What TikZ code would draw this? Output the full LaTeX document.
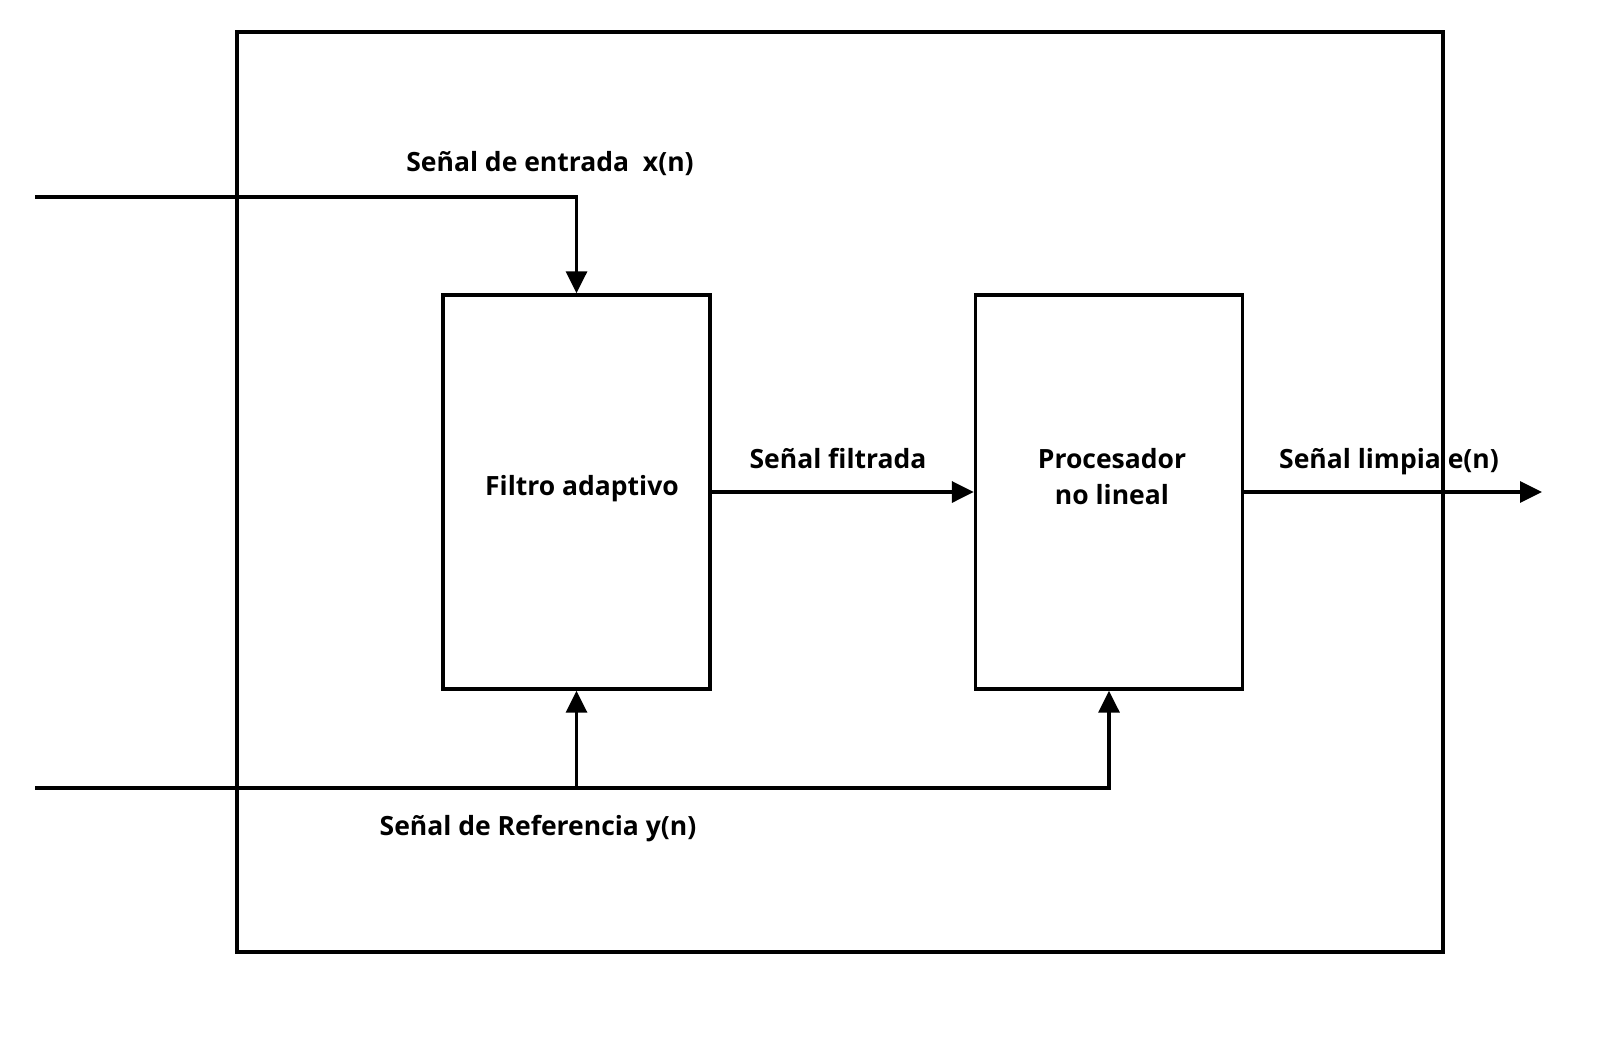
\documentclass[tikz,border=0pt]{standalone}
\usepackage{fontspec}
\setmainfont{Open Sans}
\usetikzlibrary{arrows.meta}
\begin{document}
\begin{tikzpicture}[x=1pt,y=-1pt,line width=3.4pt,
  blk/.style={draw,inner sep=0pt,align=center,minimum width=267pt,minimum height=394pt},
  lbl/.style={inner sep=0pt,font=\fontsize{26.5}{36}\selectfont\bfseries,align=center},
  arr/.style={-{Triangle[length=22pt,width=21pt]}}]
\useasboundingbox (0,0) rectangle (1615,1052);
\node[draw,inner sep=0pt,minimum width=1206pt,minimum height=920pt] (outer) at (840,492) {};
\node[blk] (filtro) at (576.5,492) {};
\node[lbl] (tfiltro) at (582,489) {Filtro adaptivo};
\node[blk] (proc) at (1109,492) {};
\node[lbl] (tproc) at (1112,477) {Procesador\\no lineal};
\coordinate (xin) at (35,197);
\coordinate (yin) at (35,788);
\coordinate (eout) at (1542,492);
\draw[arr] (xin) -| (filtro.north);
\draw[arr] (yin) -| (proc.south);
\draw[arr] (filtro.south |- yin) -- (filtro.south);
\draw[arr] (filtro.east) -- (proc.west);
\draw[arr] (proc.east) -- (eout);
\node[lbl] (lx) at (550,164) {Señal de entrada~~x(n)};
\node[lbl] (lf) at (838,458) {Señal filtrada};
\node[lbl] (le) at (1389,462) {Señal limpia e(n)};
\node[lbl] (ly) at (538,829) {Señal de Referencia y(n)};
\end{tikzpicture}
\end{document}
